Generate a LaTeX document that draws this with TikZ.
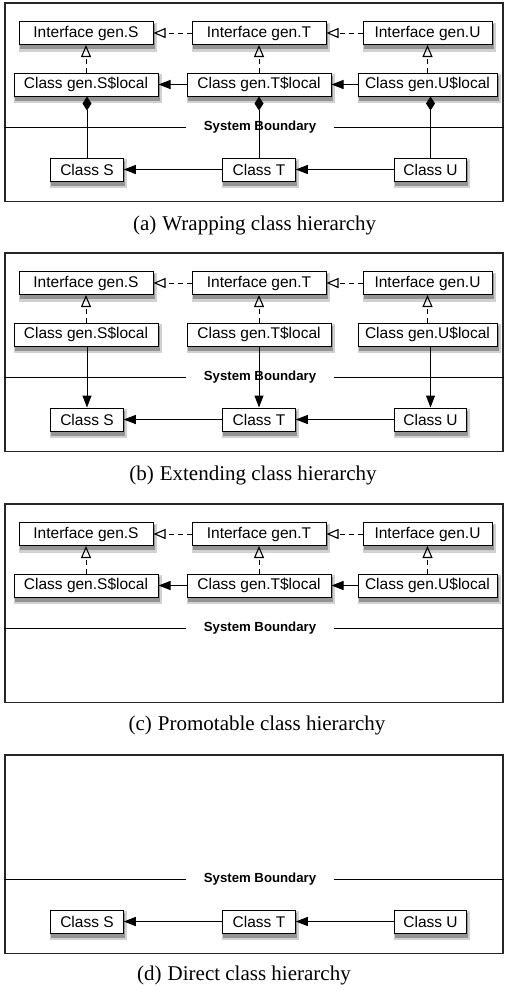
\documentclass[tikz,border=0pt]{standalone}
\usepackage{fontspec}
\setmainfont{Liberation Serif}
\setsansfont{Liberation Sans}
\usetikzlibrary{arrows.meta,decorations.markings,calc}

\tikzset{
  box/.style={draw, line width=1pt, fill=white, minimum height=23pt, inner xsep=0pt, inner ysep=2pt,
    font=\sffamily\fontsize{15.5}{18}\selectfont},
  shade1/.style={fill=black!18, draw=none, minimum height=29pt, inner sep=0pt},
  shade2/.style={fill=black!42, draw=none, minimum height=25pt, inner sep=0pt},
  frame/.style={draw, line width=1.2pt, draw=black!85, minimum width=498pt, minimum height=198.5pt},
  bound/.style={font=\sffamily\bfseries\fontsize{13.2}{16}\selectfont, inner xsep=18pt},
  caption/.style={font=\rmfamily\fontsize{21}{24}\selectfont},
  inh/.style={line width=1pt, dash pattern=on 5pt off 4pt, shorten >=11pt,
    postaction={decorate, decoration={markings, mark=at position 1 with
      {\pgfsetdash{}{0pt}\pgfsetlinewidth{1.1pt}\arrow{Triangle[open, length=12pt, width=10pt]}}}}},
  ref/.style={line width=1pt, -{Triangle[length=12pt, width=9pt]}},
  comp/.style={line width=1pt, -{Diamond[length=14pt, width=9pt]}}
}

% box with its shadow drawn first
\newcommand{\umlbox}[4]{%
  \node[shade1, minimum width={#3pt+4pt}] (#1s1) at ($(#2)+(1.5,4)$) {};
  \node[shade2, minimum width={#3pt+1pt}] (#1s2) at ($(#2)+(1,3.5)$) {};
  \node[box, minimum width=#3pt] (#1) at (#2) {#4};}

\begin{document}
\begin{tikzpicture}[x=1pt,y=-1pt]
\useasboundingbox (0,0) rectangle (504,991);

% (a) wrapping
\node[frame] (fra) at (254,102.2) {};
\node[bound] (bnda) at (260,127) {System Boundary};
\draw[line width=1pt] (fra.west |- bnda) -- (bnda.west);
\draw[line width=1pt] (bnda.east) -- (fra.east |- bnda);
\umlbox{iSa}{86,33}{134}{Interface gen.S}
\umlbox{iTa}{259,33}{134}{Interface gen.T}
\umlbox{iUa}{427.5,33}{129}{Interface gen.U}
\umlbox{lSa}{86,84.5}{144}{Class gen.S\$local}
\umlbox{lTa}{259,84.5}{144}{Class gen.T\$local}
\umlbox{lUa}{427.5,84.5}{139}{Class gen.U\$local}
\umlbox{cSa}{87,169.5}{72.5}{Class S}
\umlbox{cTa}{259,169.5}{72.5}{Class T}
\umlbox{cUa}{430.5,169.5}{72.5}{Class U}
\draw[inh] (iTa) -- (iSa);
\draw[inh] (iUa) -- (iTa);
\draw[inh] (lSa) -- (lSa |- iSa.south);
\draw[inh] (lTa) -- (lTa |- iTa.south);
\draw[inh] (lUa) -- (lUa |- iUa.south);
\draw[ref] (lTa) -- (lSa);
\draw[ref] (lUa) -- (lTa);
\draw[ref] (cTa) -- (cSa);
\draw[ref] (cUa) -- (cTa);
\draw[comp] (cSa) -- (cSa |- lSa.south);
\draw[comp] (cTa) -- (cTa |- lTa.south);
\draw[comp] (cUa) -- (cUa |- lUa.south);
\node[caption] (capa) at (254.7,225) {(a)\hspace{6pt}Wrapping class hierarchy};

% (b) extending
\begin{scope}[yshift=-250pt]
\node[frame] (frb) at (254,102.2) {};
\node[bound] (bndb) at (260,127) {System Boundary};
\draw[line width=1pt] (frb.west |- bndb) -- (bndb.west);
\draw[line width=1pt] (bndb.east) -- (frb.east |- bndb);
\umlbox{iSb}{86,33}{134}{Interface gen.S}
\umlbox{iTb}{259,33}{134}{Interface gen.T}
\umlbox{iUb}{427.5,33}{129}{Interface gen.U}
\umlbox{lSb}{86,84.5}{144}{Class gen.S\$local}
\umlbox{lTb}{259,84.5}{144}{Class gen.T\$local}
\umlbox{lUb}{427.5,84.5}{139}{Class gen.U\$local}
\umlbox{cSb}{87,169.5}{72.5}{Class S}
\umlbox{cTb}{259,169.5}{72.5}{Class T}
\umlbox{cUb}{430.5,169.5}{72.5}{Class U}
\draw[inh] (iTb) -- (iSb);
\draw[inh] (iUb) -- (iTb);
\draw[inh] (lSb) -- (lSb |- iSb.south);
\draw[inh] (lTb) -- (lTb |- iTb.south);
\draw[inh] (lUb) -- (lUb |- iUb.south);
\draw[ref] (cTb) -- (cSb);
\draw[ref] (cUb) -- (cTb);
\draw[ref] (lSb.south -| cSb) -- (cSb);
\draw[ref] (lTb.south -| cTb) -- (cTb);
\draw[ref] (lUb.south -| cUb) -- (cUb);
\node[caption] (capb) at (253,225) {(b)\hspace{6pt}Extending class hierarchy};
\end{scope}

% (c) promotable
\begin{scope}[yshift=-501pt]
\node[frame] (frc) at (254,102.2) {};
\node[bound] (bndc) at (260,127) {System Boundary};
\draw[line width=1pt] (frc.west |- bndc) -- (bndc.west);
\draw[line width=1pt] (bndc.east) -- (frc.east |- bndc);
\umlbox{iSc}{86,33}{134}{Interface gen.S}
\umlbox{iTc}{259,33}{134}{Interface gen.T}
\umlbox{iUc}{427.5,33}{129}{Interface gen.U}
\umlbox{lSc}{86,84.5}{144}{Class gen.S\$local}
\umlbox{lTc}{259,84.5}{144}{Class gen.T\$local}
\umlbox{lUc}{427.5,84.5}{139}{Class gen.U\$local}
\draw[inh] (iTc) -- (iSc);
\draw[inh] (iUc) -- (iTc);
\draw[inh] (lSc) -- (lSc |- iSc.south);
\draw[inh] (lTc) -- (lTc |- iTc.south);
\draw[inh] (lUc) -- (lUc |- iUc.south);
\draw[ref] (lTc) -- (lSc);
\draw[ref] (lUc) -- (lTc);
\node[caption] (capc) at (257,224) {(c)\hspace{6pt}Promotable class hierarchy};
\end{scope}

% (d) direct
\begin{scope}[yshift=-752pt]
\node[frame] (frd) at (254,102.2) {};
\node[bound] (bndd) at (260,127) {System Boundary};
\draw[line width=1pt] (frd.west |- bndd) -- (bndd.west);
\draw[line width=1pt] (bndd.east) -- (frd.east |- bndd);
\umlbox{cSd}{87,169.5}{72.5}{Class S}
\umlbox{cTd}{259,169.5}{72.5}{Class T}
\umlbox{cUd}{430.5,169.5}{72.5}{Class U}
\draw[ref] (cTd) -- (cSd);
\draw[ref] (cUd) -- (cTd);
\node[caption] (capd) at (244,223) {(d)\hspace{6pt}Direct class hierarchy};
\end{scope}
\end{tikzpicture}
\end{document}
